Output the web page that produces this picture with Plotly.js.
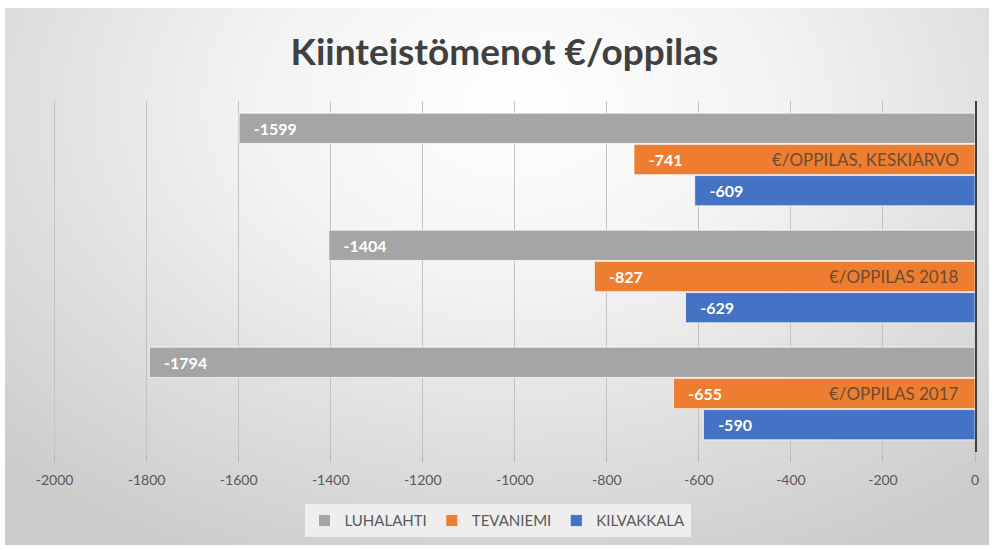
<!DOCTYPE html>
<html>
<head>
<meta charset="utf-8">
<script src="https://cdn.plot.ly/plotly-3.0.1.min.js"></script>
<style>
  html, body { margin: 0; padding: 0; background: #ffffff; width: 995px; height: 550px; overflow: hidden; }
  #bg { position: absolute; left: 5px; top: 8px; width: 984px; height: 537px;
        background: radial-gradient(ellipse 75% 95% at 52% 18%, #ffffff 0%, #f3f3f3 35%, #e0e0e0 65%, #cbcbcb 100%); }
  #chart { position: absolute; left: 0; top: 0; width: 995px; height: 550px; }
</style>
</head>
<body>
<div id="bg"></div>
<div id="chart"></div>
<script>
// Data
const categories = ["€/OPPILAS, KESKIARVO", "€/OPPILAS 2018", "€/OPPILAS 2017"];
const seriesNames = ["LUHALAHTI", "TEVANIEMI", "KILVAKKALA"];
const luhalahti = [-1599, -1404, -1794];
const tevaniemi = [-741, -827, -655];
const kilvakkala = [-609, -629, -590];
const xTickVals = [-2000, -1800, -1600, -1400, -1200, -1000, -800, -600, -400, -200, 0];
const xTickText = ["-2000", "-1800", "-1600", "-1400", "-1200", "-1000", "-800", "-600", "-400", "-200", "0"];

const colors = ["#a5a5a5", "#ed7d31", "#4472c4"];
const allValues = [luhalahti, tevaniemi, kilvakkala];
const FONT = "Lato, 'Open Sans', sans-serif";

const traces = allValues.map((vals, i) => ({
  type: "bar",
  orientation: "h",
  name: seriesNames[i],
  y: categories,
  x: vals,
  text: vals.map(v => "\u00a0\u00a0\u00a0" + String(v)),
  textposition: "inside",
  insidetextanchor: "end",
  textangle: 0,
  insidetextfont: { family: FONT, size: 16, color: "#ffffff", weight: "bold" },
  constraintext: "none",
  marker: { color: colors[i], line: { color: "rgba(255,255,255,0.7)", width: 1 } },
  hoverinfo: "none"
}));

// Category labels placed next to the value axis (x = 0), inside the plot
const catAnnotations = categories.map(c => ({
  x: 0, xref: "x",
  y: c, yref: "y",
  text: c,
  showarrow: false,
  xanchor: "right",
  yanchor: "middle",
  xshift: -14,
  font: { family: FONT, size: 17, color: "#6e4a30" }
}));

const layout = {
  width: 995,
  height: 550,
  paper_bgcolor: "rgba(0,0,0,0)",
  plot_bgcolor: "rgba(0,0,0,0)",
  margin: { l: 50, r: 20, t: 101, b: 98 },
  title: {
    text: "Kiinteistömenot €/oppilas",
    font: { family: FONT, size: 37, color: "#404040", weight: "bold" },
    x: 0.507, xanchor: "center", xref: "container",
    y: 0.905, yanchor: "middle", yref: "container"
  },
  barmode: "group",
  bargap: 0.2,
  bargroupgap: 0.03,
  showlegend: true,
  legend: {
    orientation: "h",
    x: 0.5, xanchor: "center", xref: "container",
    y: 0.053, yanchor: "middle", yref: "container",
    font: { family: FONT, size: 15, color: "#595959" },
    bgcolor: "rgba(242,242,242,0.85)",
    itemwidth: 30,
    traceorder: "normal"
  },
  annotations: catAnnotations,
  xaxis: {
    range: [-2010, 0],
    tickvals: xTickVals,
    ticktext: xTickText,
    showgrid: true,
    gridcolor: "#c3c3c3",
    gridwidth: 1,
    zeroline: false,
    showline: false,
    ticks: "outside",
    ticklen: 9,
    tickcolor: "#b5b5b5",
    tickfont: { family: FONT, size: 14, color: "#595959" },
    ticklabelstandoff: 6,
    fixedrange: true
  },
  yaxis: {
    type: "category",
    categoryorder: "array",
    categoryarray: categories,
    autorange: "reversed",
    side: "right",
    showticklabels: false,
    ticks: "",
    showgrid: false,
    showline: true,
    linecolor: "#404040",
    linewidth: 1.5,
    fixedrange: true
  }
};

Plotly.newPlot("chart", traces, layout, { displayModeBar: false, staticPlot: true });
</script>
</body>
</html>
